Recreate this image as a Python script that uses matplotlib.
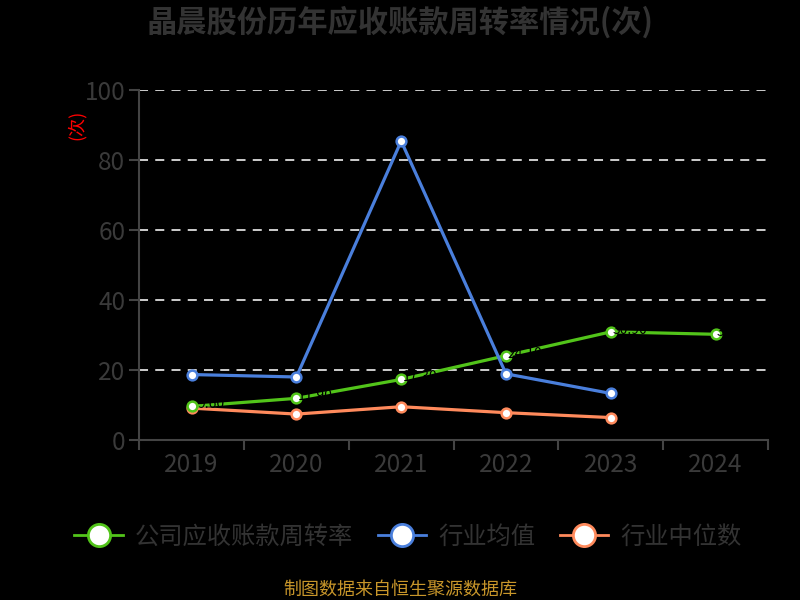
import matplotlib
matplotlib.use("Agg")
import matplotlib.pyplot as plt
from matplotlib.lines import Line2D
import numpy as np

plt.rcParams['font.family'] = ['Noto Sans CJK SC', 'DejaVu Sans']

years = ['2019', '2020', '2021', '2022', '2023', '2024']
company = [9.6, 11.9, 17.3, 24.1, 30.9, 30.2]
industry_avg = [18.7, 18.0, 85.4, 18.9, 13.3]
industry_median = [9.1, 7.4, 9.5, 7.8, 6.4]
series_names = ['公司应收账款周转率', '行业均值', '行业中位数']

green = '#52c41a'
blue = '#4a7fdc'
orange = '#ff8a5c'
grey = '#3a3a3a'

fig = plt.figure(figsize=(8, 6), dpi=100, facecolor='black')
ax = fig.add_axes([0.174, 0.2667, 0.786, 0.5833])
ax.set_facecolor('black')

x = np.arange(len(years))

def draw(vals, color, z):
    ax.plot(x[:len(vals)], vals, color=color, lw=2.3, marker='o', ms=7,
            mfc='white', mec=color, mew=1.8, zorder=z, solid_joinstyle='round')

draw(industry_median, orange, 3)
draw(company, green, 4)
draw(industry_avg, blue, 5)

# data labels on the company line (black, as in the reference)
for xi, v in zip(x, company):
    ax.text(xi + 0.18, v + 0.6, f'{v:.2f}', color='black', fontsize=10,
            ha='center', va='center', zorder=6)

ax.set_xlim(-0.5, 5.5)
ax.set_ylim(0, 100)
ax.set_yticks(range(0, 101, 20))
ax.set_xticks(x)
ax.set_xticklabels(years)
ax.set_xticks(np.arange(-0.5, 6, 1), minor=True)
ax.tick_params(axis='x', which='major', length=0, pad=9, labelsize=17.5, labelcolor=grey)
ax.tick_params(axis='x', which='minor', length=7, width=1.5, color='#444444', direction='out')
ax.tick_params(axis='y', length=7, width=1.5, color='#444444', pad=3, labelsize=17.5, labelcolor=grey)

for yv in range(20, 101, 20):
    ax.axhline(yv, color='#dddddd', lw=1.3, ls=(0, (5, 4)), zorder=1)

for s in ['top', 'right']:
    ax.spines[s].set_visible(False)
for s in ['left', 'bottom']:
    ax.spines[s].set_color('#444444')
    ax.spines[s].set_linewidth(1.5)

fig.text(0.5, 0.962, '晶晨股份历年应收账款周转率情况(次)', ha='center', va='center',
         fontsize=21.8, fontweight='bold', color='#333333')
fig.text(0.096, 0.792, '(次)', ha='center', va='center', rotation=90,
         fontsize=13, color='red')

handles = [Line2D([], [], color=c, lw=2, marker='o', ms=16, mfc='white', mec=c, mew=2)
           for c in (green, blue, orange)]
fig.legend(handles, series_names, loc='center', bbox_to_anchor=(0.51, 0.105),
           ncol=3, frameon=False, fontsize=17.5, labelcolor='#333333',
           handlelength=2.0, handletextpad=0.5, columnspacing=1.0)

fig.text(0.5, 0.017, '制图数据来自恒生聚源数据库', ha='center', va='center',
         fontsize=13, color='#c8962a')

fig.savefig('out.png', dpi=100, facecolor='black')
